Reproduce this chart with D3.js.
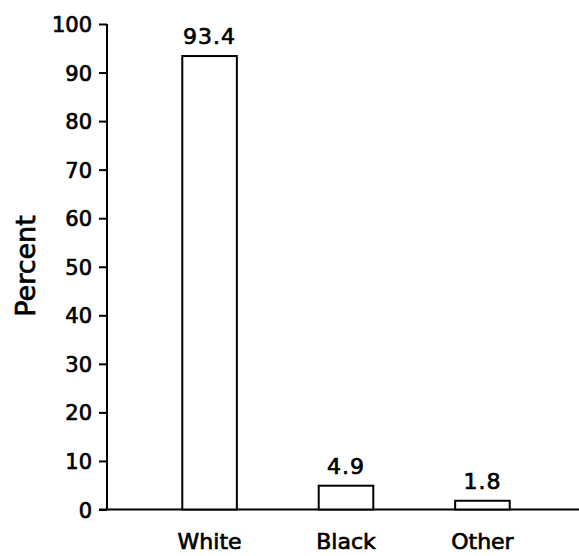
<!DOCTYPE html>
<html>
<head>
<meta charset="utf-8">
<script src="https://cdn.jsdelivr.net/npm/d3@7"></script>
<style>
  html, body { margin: 0; padding: 0; background: #fff; }
  svg text { font-family: "DejaVu Sans", sans-serif; font-weight: normal; fill: #000; stroke: #000; stroke-width: 0.7px; }
</style>
</head>
<body>
<svg id="chart" width="579" height="556"></svg>
<script>
// Race distribution, percent of total
const categories = ["White", "Black", "Other"];
const percents = [93.4, 4.9, 1.8];
const valueLabels = ["93.4", "4.9", "1.8"];
const yTicks = [0, 10, 20, 30, 40, 50, 60, 70, 80, 90, 100];

const svg = d3.select("#chart");
const axisX = 107, plotTop = 24, plotBase = 509.5;

const y = d3.scaleLinear().domain([0, 100]).range([plotBase, plotTop]);
const x = d3.scaleBand().domain(categories).range([155, 537])
  .paddingInner(0.6).paddingOuter(0.2);

// Y axis
const yAxis = d3.axisLeft(y).tickValues(yTicks).tickSize(8).tickPadding(7);
const gy = svg.append("g").attr("transform", `translate(${axisX},0)`).call(yAxis);
gy.select(".domain").attr("stroke", "#000").attr("stroke-width", 2).attr("d", `M0,${plotBase}V${plotTop}`);
gy.selectAll(".tick line").attr("stroke", "#000").attr("stroke-width", 2);
gy.selectAll(".tick text").attr("font-size", 21).attr("font-family", null).attr("dy", "0.36em");

// X axis baseline
svg.append("line")
  .attr("x1", axisX - 8).attr("x2", 579)
  .attr("y1", plotBase).attr("y2", plotBase)
  .attr("stroke", "#000").attr("stroke-width", 2);

// Bars
svg.selectAll("rect.bar").data(categories).join("rect")
  .attr("class", "bar")
  .attr("x", d => x(d))
  .attr("width", x.bandwidth())
  .attr("y", (d, i) => y(percents[i]))
  .attr("height", (d, i) => plotBase - y(percents[i]))
  .attr("fill", "#fff").attr("stroke", "#000").attr("stroke-width", 2);

// Value labels
svg.selectAll("text.val").data(categories).join("text")
  .attr("class", "val")
  .attr("x", d => x(d) + x.bandwidth() / 2)
  .attr("y", (d, i) => y(percents[i]) - 12)
  .attr("text-anchor", "middle").attr("font-size", 22)
  .attr("letter-spacing", 1)
  .text((d, i) => valueLabels[i]);

// Category labels
svg.selectAll("text.cat").data(categories).join("text")
  .attr("class", "cat")
  .attr("x", d => x(d) + x.bandwidth() / 2)
  .attr("y", 549)
  .attr("text-anchor", "middle").attr("font-size", 22)
  .text(d => d);

// Y axis title
svg.append("text")
  .attr("transform", "translate(35,266) rotate(-90)")
  .attr("text-anchor", "middle").attr("font-size", 27)
  .text("Percent");
</script>
</body>
</html>
